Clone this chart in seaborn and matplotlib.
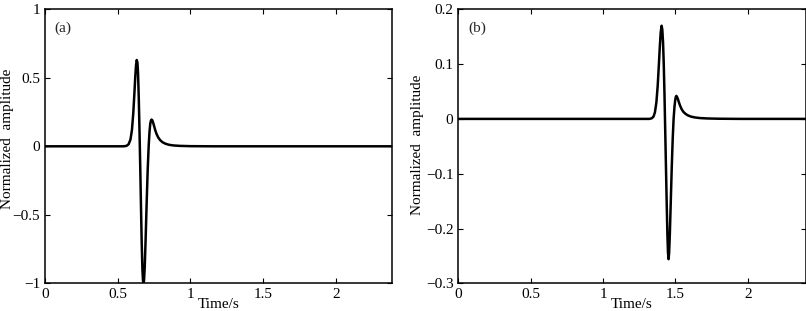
import numpy as np
import pandas as pd
import seaborn as sns
import matplotlib
matplotlib.use("Agg")
import matplotlib.pyplot as plt

sns.set_theme(style="ticks")
plt.rcParams['font.family'] = ['Liberation Serif', 'DejaVu Serif']
plt.rcParams['xtick.direction'] = 'in'
plt.rcParams['ytick.direction'] = 'in'
plt.rcParams['axes.unicode_minus'] = True

# panel (a) wavelet
time_a = [0, 0.54, 0.56, 0.575, 0.588, 0.598, 0.607, 0.615, 0.621, 0.626,
          0.631, 0.636, 0.640, 0.645, 0.650, 0.655, 0.660, 0.665, 0.670, 0.674,
          0.677, 0.681, 0.686, 0.692, 0.699, 0.706, 0.713, 0.719, 0.724, 0.729,
          0.733, 0.738, 0.744, 0.751, 0.759, 0.768, 0.779, 0.792, 0.808, 0.828,
          0.853, 0.885, 0.93, 1.0, 1.15, 2.39]
amp_a = [0, 0, 0.003, 0.015, 0.05, 0.12, 0.24, 0.39, 0.51, 0.59,
         0.63, 0.61, 0.53, 0.35, 0.11, -0.15, -0.43, -0.70, -0.90, -0.98,
         -1.0, -0.98, -0.88, -0.68, -0.42, -0.18, 0.0, 0.11, 0.165, 0.19,
         0.195, 0.19, 0.172, 0.145, 0.115, 0.088, 0.064, 0.045, 0.030, 0.019,
         0.011, 0.006, 0.003, 0.001, 0, 0]

# panel (b) wavelet
time_b = [0, 1.32, 1.335, 1.348, 1.358, 1.368, 1.377, 1.385, 1.392, 1.398,
          1.404, 1.409, 1.414, 1.419, 1.424, 1.429, 1.434, 1.439, 1.444, 1.448,
          1.452, 1.456, 1.461, 1.467, 1.474, 1.481, 1.487, 1.493, 1.498, 1.502,
          1.506, 1.511, 1.517, 1.524, 1.532, 1.542, 1.554, 1.568, 1.585, 1.607,
          1.635, 1.67, 1.72, 1.8, 1.95, 2.4]
amp_b = [0, 0, 0.001, 0.004, 0.012, 0.03, 0.06, 0.098, 0.133, 0.158,
         0.170, 0.163, 0.14, 0.10, 0.045, -0.02, -0.085, -0.15, -0.21, -0.243,
         -0.256, -0.245, -0.21, -0.155, -0.09, -0.035, 0.0, 0.022, 0.034, 0.04,
         0.042, 0.04, 0.036, 0.030, 0.024, 0.018, 0.013, 0.0095, 0.0065, 0.0042,
         0.0026, 0.0015, 0.0008, 0.0003, 0, 0]

xticks = [0, 0.5, 1, 1.5, 2]
yticks_a = [-1, -0.5, 0, 0.5, 1]
yticks_b = [-0.3, -0.2, -0.1, 0, 0.1, 0.2]

fig = plt.figure(figsize=(8.06, 3.11), dpi=100)
axa = fig.add_axes([45 / 806, 1 - 283.3 / 311, 347.5 / 806, 274 / 311])
axb = fig.add_axes([458.3 / 806, 1 - 283.3 / 311, 347.5 / 806, 274 / 311])

fs = 11
panels = [
    (axa, time_a, amp_a, (0, 2.39), (-1, 1), yticks_a, ['0', '0.5', '1', '1.5', '2'],
     ['\u22121', '\u22120.5', '0', '0.5', '1'], '(a)', -0.089, 0.528),
    (axb, time_b, amp_b, (0, 2.4), (-0.3, 0.2), yticks_b, ['0', '0.5', '1', '1.5', '2'],
     ['\u22120.3', '\u22120.2', '\u22120.1', '0', '0.1', '0.2'], '(b)', -0.098, 0.507),
]
for ax, t, a, xl, yl, yt, xtl, ytl, tag, lx, ly in panels:
    df = pd.DataFrame({'t': t, 'a': a})
    sns.lineplot(data=df, x='t', y='a', ax=ax, color='black', linewidth=1.8,
                 estimator=None, sort=False)
    ax.set_xlim(*xl)
    ax.set_ylim(*yl)
    ax.set_xticks(xticks)
    ax.set_xticklabels(xtl, fontsize=fs)
    ax.set_yticks(yt)
    ax.set_yticklabels(ytl, fontsize=fs)
    ax.tick_params(top=True, right=True, length=3.5, width=0.8, pad=3.5, colors='black')
    for sp in ax.spines.values():
        sp.set_visible(True)
        sp.set_linewidth(1.1)
        sp.set_color('black')
    ax.set_xlabel('Time/s', fontsize=fs, color='black')
    ax.xaxis.set_label_coords(0.5, -0.055)
    ax.set_ylabel('Normalized  amplitude', fontsize=fs, color='black')
    ax.yaxis.set_label_coords(lx, ly)
    ax.text(0.028, 0.93, tag, transform=ax.transAxes, fontsize=fs, va='center', ha='left')

fig.savefig('out.png', dpi=100)
